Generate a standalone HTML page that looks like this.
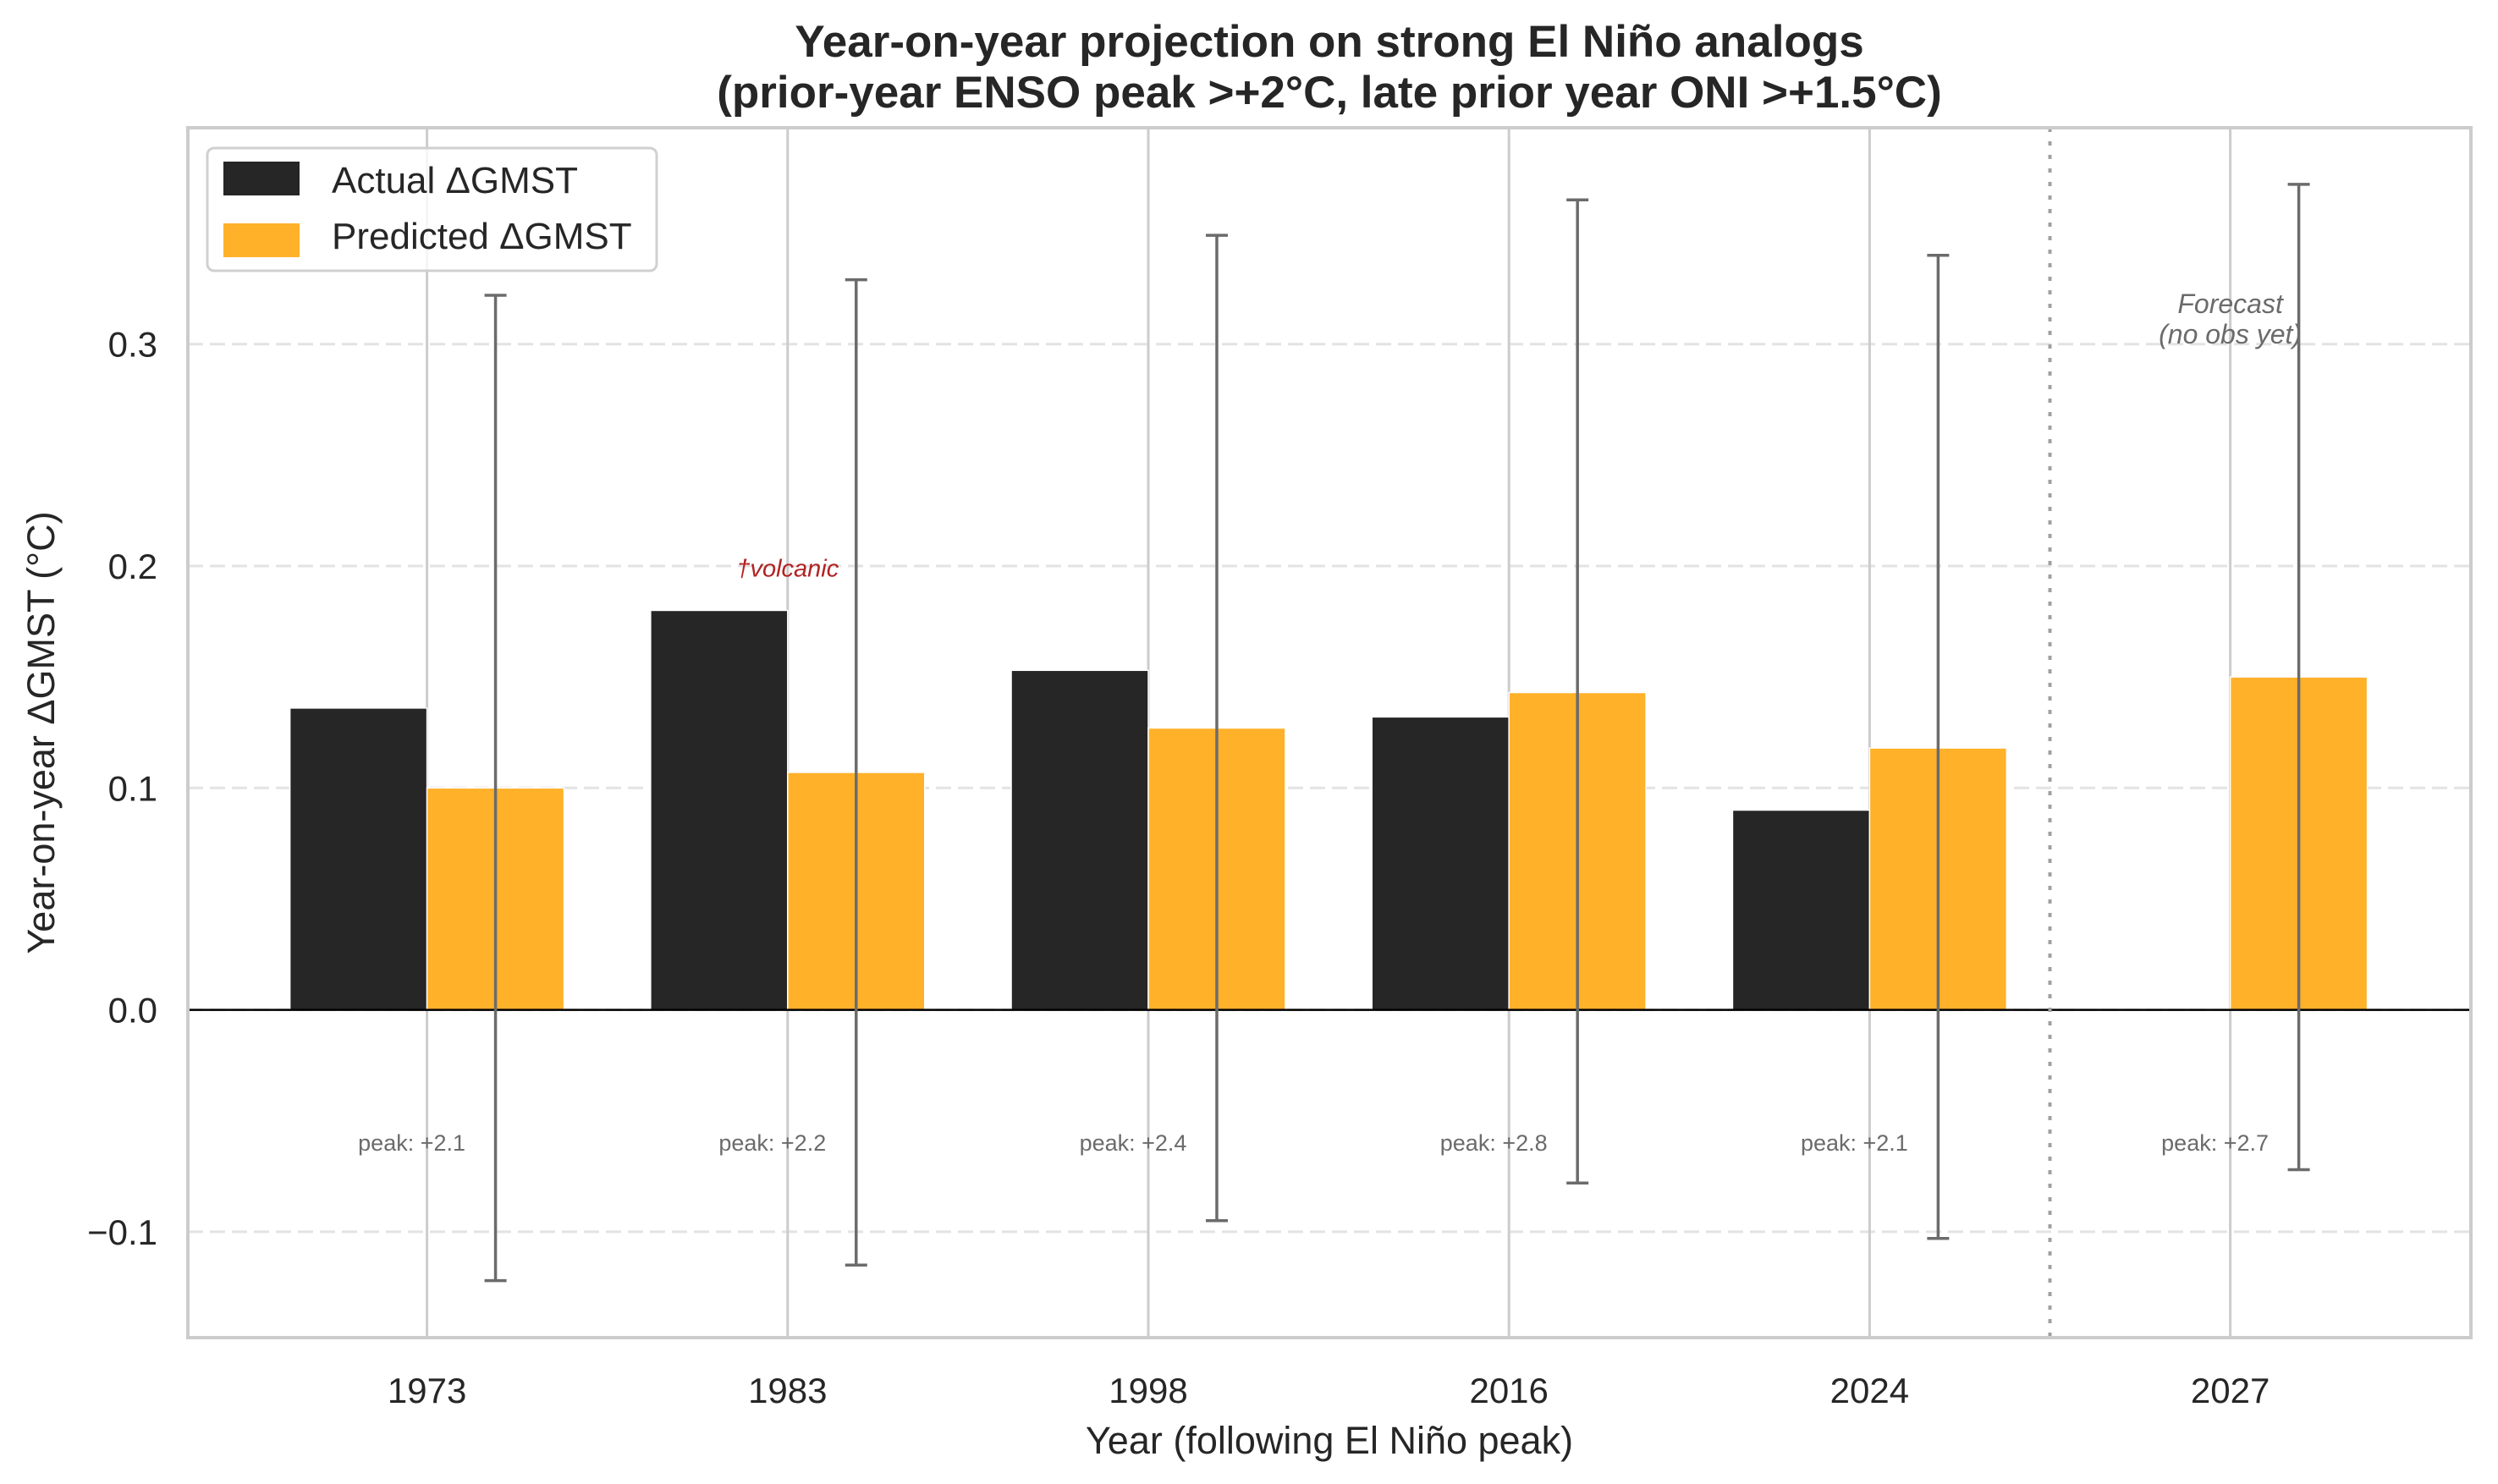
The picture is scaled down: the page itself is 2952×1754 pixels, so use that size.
<!DOCTYPE html>
<html><head><meta charset="utf-8"><style>
html,body{margin:0;padding:0;background:#fff;}
svg{display:block;font-family:"Liberation Sans",Arial,sans-serif;}
</style></head><body>
<svg id="chart" width="2952" height="1754" viewBox="0 0 2952 1754" xmlns="http://www.w3.org/2000/svg">
<rect x="0" y="0" width="2952" height="1754" fill="#fff"/>
<g id="grid"></g>
<g id="marks"></g>
<g id="labels"></g>
<text x="1571" y="67" text-anchor="middle" font-size="53" font-weight="bold" fill="#262626">Year-on-year projection on strong El Niño analogs</text>
<text x="1571" y="127" text-anchor="middle" font-size="53" font-weight="bold" fill="#262626">(prior-year ENSO peak &gt;+2°C, late prior year ONI &gt;+1.5°C)</text>
<text x="1571" y="1718" text-anchor="middle" font-size="45" fill="#262626">Year (following El Niño peak)</text>
<text transform="translate(64,866) rotate(-90)" text-anchor="middle" font-size="45" fill="#262626">Year-on-year ΔGMST (°C)</text>
<g>
<rect x="245" y="175" width="531" height="145" rx="8" fill="#fff" fill-opacity="0.8" stroke="#d0d0d0" stroke-width="3"/>
<rect x="264" y="191" width="90" height="40" fill="#262626"/>
<text x="392" y="228" font-size="44" fill="#262626">Actual ΔGMST</text>
<rect x="264" y="264" width="90" height="40" fill="#ffb12a"/>
<text x="392" y="294" font-size="44" fill="#262626">Predicted ΔGMST</text>
</g>
<script>
const categories = ["1973","1983","1998","2016","2024","2027"];
const actual = [0.136, 0.180, 0.153, 0.132, 0.090, null];
const predicted = [0.100, 0.107, 0.127, 0.143, 0.118, 0.150];
const errLow = [-0.122, -0.115, -0.095, -0.078, -0.103, -0.072];
const errHigh = [0.322, 0.329, 0.349, 0.365, 0.340, 0.372];
const peaks = ["peak: +2.1","peak: +2.2","peak: +2.4","peak: +2.8","peak: +2.1","peak: +2.7"];
const yTicks = [-0.1, 0.0, 0.1, 0.2, 0.3];
const yTickLabels = ["\u22120.1","0.0","0.1","0.2","0.3"];

const L=222,R=2920,T=151,B=1581;
const Y0=1193.6, YS=2623;
function y(v){return Y0 - v*YS;}
function x(i){return 504.6 + i*426.2;}
const BW=0.38*426.2;
const NS="http://www.w3.org/2000/svg";
function mk(parent,tag,attrs){const e=document.createElementNS(NS,tag);for(const k in attrs)e.setAttribute(k,attrs[k]);document.getElementById(parent).appendChild(e);return e;}

yTicks.forEach((t,i)=>{
  const g=mk('grid','line',{x1:L,x2:R,y1:y(t),y2:y(t),stroke:'#e3e3e3','stroke-width':3,'stroke-dasharray':'18 8'});
  
  
  const tl=mk('labels','text',{x:186,y:y(t)+15,'text-anchor':'end','font-size':42,fill:'#262626'});
  tl.textContent=yTickLabels[i];
  
  
});
categories.forEach((c,i)=>{
  const g=mk('grid','line',{x1:x(i),x2:x(i),y1:T,y2:B,stroke:'#cccccc','stroke-width':3});
  
  
  const tl=mk('labels','text',{x:x(i),y:1658,'text-anchor':'middle','font-size':42,fill:'#262626'});
  tl.textContent=c;
  
  
});
categories.forEach((c,i)=>{
  if(actual[i]!==null){
    const b=mk('marks','rect',{x:x(i)-BW,y:y(actual[i]),width:BW,height:y(0)-y(actual[i]),fill:'#262626',stroke:'#fff','stroke-width':1.5});
    
    
  }
  const p=mk('marks','rect',{x:x(i),y:y(predicted[i]),width:BW,height:y(0)-y(predicted[i]),fill:'#ffb12a',stroke:'#fff','stroke-width':1.5});
  
  
});
const z=mk('marks','line',{x1:L,x2:R,y1:y(0),y2:y(0),stroke:'#000','stroke-width':2.5});


const dv=mk('marks','line',{x1:x(4.5),x2:x(4.5),y1:T,y2:B,stroke:'#a0a0a0','stroke-width':4,'stroke-dasharray':'5 11'});


categories.forEach((c,i)=>{
  const cx=x(i)+BW/2;
  const e=mk('marks','path',{d:`M${cx},${y(errLow[i])}V${y(errHigh[i])}M${cx-13},${y(errHigh[i])}h26M${cx-13},${y(errLow[i])}h26`,stroke:'#6b6b6b','stroke-width':3.5,fill:'none'});
  
  
  const t=mk('labels','text',{x:x(i)-18,y:y(-0.06)+9,'text-anchor':'middle','font-size':27,fill:'#6b6b6b'});
  t.textContent=peaks[i];
  
  
});
const v=mk('labels','text',{x:x(1),y:y(0.199)+10,'text-anchor':'middle','font-size':29,'font-style':'italic',fill:'#b22222'});
v.textContent='\u2020volcanic';


const f1=mk('labels','text',{x:x(5),y:370,'text-anchor':'middle','font-size':32,'font-style':'italic',fill:'#6b6b6b'});
f1.textContent='Forecast';


const f2=mk('labels','text',{x:x(5),y:406,'text-anchor':'middle','font-size':32,'font-style':'italic',fill:'#6b6b6b'});
f2.textContent='(no obs yet)';


const fr=mk('labels','rect',{x:L,y:T,width:R-L,height:B-T,fill:'none',stroke:'#cccccc','stroke-width':4});


</script>
</svg>
</body></html>
